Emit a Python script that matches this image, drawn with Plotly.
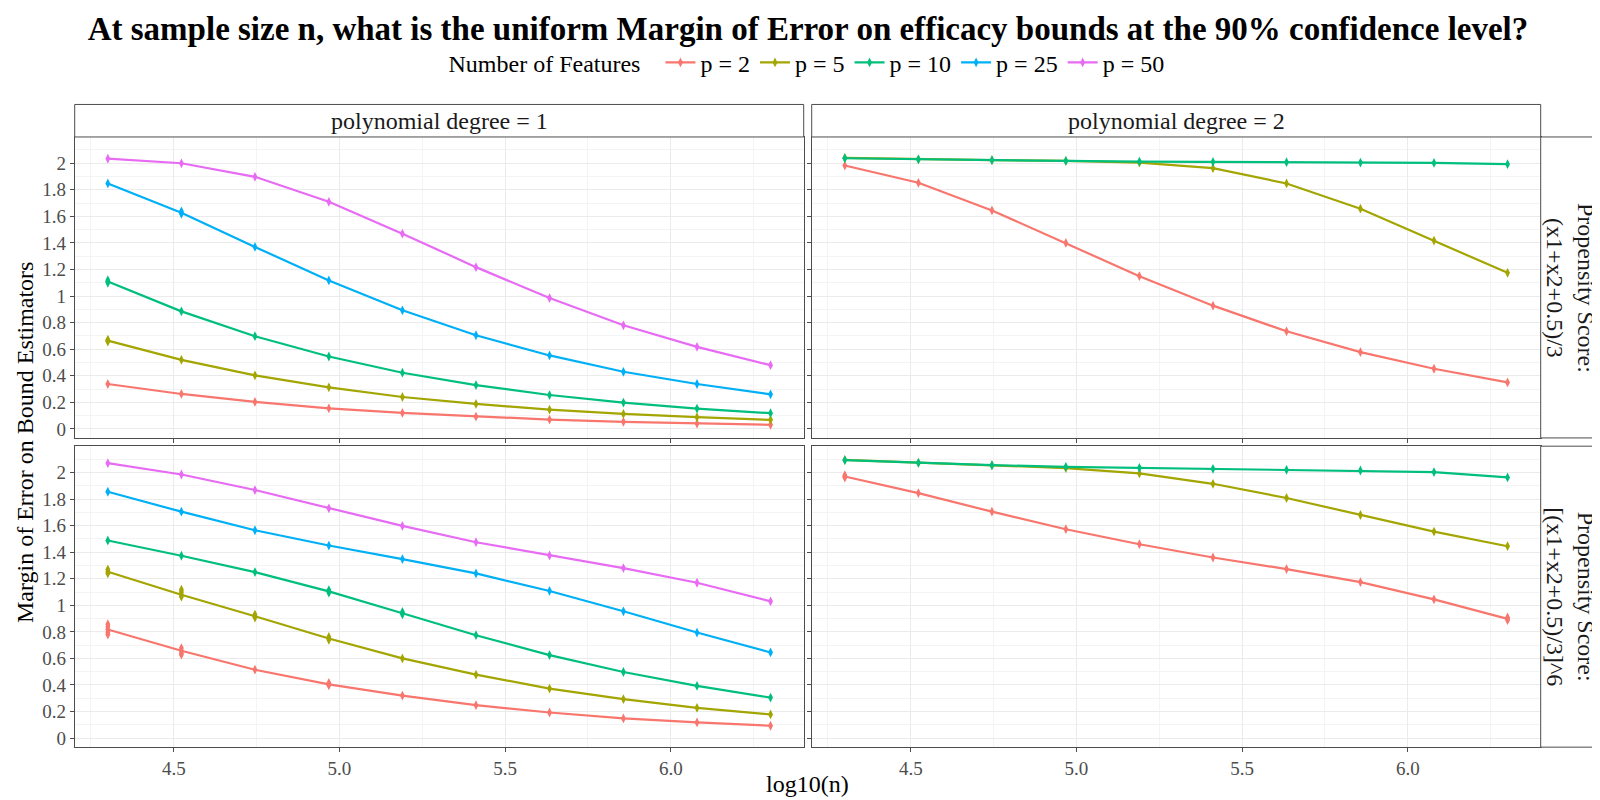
import plotly.graph_objects as go

# log10(n) sample sizes
log_n = [4.301, 4.523, 4.745, 4.968, 5.190, 5.412, 5.634, 5.857, 6.079, 6.301]

features = ["p = 2", "p = 5", "p = 10", "p = 25", "p = 50"]
colors = ["#F8766D", "#A3A500", "#00BF7D", "#00B0F6", "#E76BF3"]

# polynomial degree = 1, propensity score (x1+x2+0.5)/3
d1_ps1_p2 = [0.338, 0.263, 0.203, 0.155, 0.120, 0.093, 0.070, 0.053, 0.040, 0.031]
d1_ps1_p5 = [0.665, 0.520, 0.403, 0.313, 0.240, 0.188, 0.145, 0.113, 0.088, 0.068]
d1_ps1_p10 = [1.110, 0.885, 0.698, 0.545, 0.423, 0.330, 0.255, 0.198, 0.153, 0.118]
d1_ps1_p25 = [1.848, 1.628, 1.370, 1.118, 0.893, 0.705, 0.553, 0.430, 0.338, 0.260]
d1_ps1_p50 = [2.035, 2.000, 1.898, 1.710, 1.470, 1.218, 0.985, 0.780, 0.618, 0.480]

# polynomial degree = 1, propensity score [(x1+x2+0.5)/3]^6
d1_ps2_p2 = [0.818, 0.658, 0.515, 0.405, 0.320, 0.248, 0.193, 0.148, 0.118, 0.093]
d1_ps2_p5 = [1.253, 1.080, 0.918, 0.750, 0.600, 0.478, 0.373, 0.293, 0.228, 0.178]
d1_ps2_p10 = [1.488, 1.373, 1.250, 1.105, 0.940, 0.775, 0.625, 0.498, 0.393, 0.305]
d1_ps2_p25 = [1.855, 1.705, 1.565, 1.450, 1.348, 1.240, 1.108, 0.955, 0.795, 0.645]
d1_ps2_p50 = [2.070, 1.985, 1.868, 1.730, 1.598, 1.475, 1.375, 1.280, 1.170, 1.030]

# polynomial degree = 2, propensity score (x1+x2+0.5)/3
d2_ps1_p2 = [1.983, 1.853, 1.645, 1.400, 1.150, 0.928, 0.735, 0.578, 0.453, 0.350]
d2_ps1_p5 = [2.040, 2.030, 2.023, 2.018, 2.005, 1.963, 1.848, 1.658, 1.418, 1.175]
d2_ps1_p10 = [2.038, 2.030, 2.023, 2.018, 2.013, 2.010, 2.008, 2.005, 2.003, 1.993]

# polynomial degree = 2, propensity score [(x1+x2+0.5)/3]^6
d2_ps2_p2 = [1.970, 1.845, 1.705, 1.573, 1.460, 1.360, 1.273, 1.175, 1.045, 0.898]
d2_ps2_p5 = [2.095, 2.073, 2.053, 2.033, 1.993, 1.915, 1.808, 1.680, 1.555, 1.445]
d2_ps2_p10 = [2.093, 2.073, 2.055, 2.043, 2.035, 2.028, 2.020, 2.015, 2.003, 1.963]

# extra replicate points (index into log_n, value)
rep_d1_ps1_p5 = [(0, 0.672), (0, 0.658)]
rep_d1_ps1_p10 = [(0, 1.120), (0, 1.100)]
rep_d1_ps1_p25 = [(1, 1.638), (1, 1.620)]
rep_d1_ps2_p2 = [(0, 0.858), (0, 0.838), (0, 0.798), (0, 0.780), (1, 0.678), (1, 0.640), (1, 0.628), (3, 0.415), (3, 0.398)]
rep_d1_ps2_p5 = [(0, 1.270), (0, 1.240), (1, 1.118), (1, 1.100), (1, 1.065), (2, 0.930), (2, 0.908), (3, 0.762), (3, 0.740)]
rep_d1_ps2_p10 = [(3, 1.115), (3, 1.095), (4, 0.950), (4, 0.932)]
rep_d2_ps2_p2 = [(0, 1.980), (0, 1.962), (9, 0.908), (9, 0.888)]

panels = [
    # (xaxis, yaxis, series list, replicate list)
    ("x", "y", [d1_ps1_p2, d1_ps1_p5, d1_ps1_p10, d1_ps1_p25, d1_ps1_p50],
     [[], rep_d1_ps1_p5, rep_d1_ps1_p10, rep_d1_ps1_p25, []]),
    ("x2", "y2", [d2_ps1_p2, d2_ps1_p5, d2_ps1_p10], [[], [], []]),
    ("x3", "y3", [d1_ps2_p2, d1_ps2_p5, d1_ps2_p10, d1_ps2_p25, d1_ps2_p50],
     [rep_d1_ps2_p2, rep_d1_ps2_p5, rep_d1_ps2_p10, [], []]),
    ("x4", "y4", [d2_ps2_p2, d2_ps2_p5, d2_ps2_p10], [rep_d2_ps2_p2, [], []]),
]

FONT = "Liberation Serif, Times New Roman, serif"
W, H = 1600, 800

# panel pixel boxes
px_left = (66.7, 795.7)
px_right = (803.7, 1532.7)
py_top = (129.3, 431.0)
py_bot = (439.3, 741.0)
strip_top = (96.7, 129.3)
strip_right = (1532.7, 1592.3)


def xd(a, b):
    return [a / W, b / W]


def yd(a, b):
    return [1 - b / H, 1 - a / H]


fig = go.Figure()

for k, (xa, ya, series, reps) in enumerate(panels):
    for i, vals in enumerate(series):
        fig.add_trace(go.Scatter(
            x=log_n, y=vals, mode="lines+markers", xaxis=xa, yaxis=ya,
            name=features[i], legendgroup=features[i], showlegend=(k == 0),
            line=dict(color=colors[i], width=2.2),
            marker=dict(color=colors[i], symbol="diamond-tall", size=7),
        ))
        if reps[i]:
            fig.add_trace(go.Scatter(
                x=[log_n[j] for j, v in reps[i]], y=[v for j, v in reps[i]],
                mode="markers", xaxis=xa, yaxis=ya, showlegend=False,
                legendgroup=features[i], hoverinfo="skip",
                marker=dict(color=colors[i], symbol="diamond-tall", size=7),
            ))

yticks = [0, 0.2, 0.4, 0.6, 0.8, 1.0, 1.2, 1.4, 1.6, 1.8, 2.0]
ytext = ["0", "0.2", "0.4", "0.6", "0.8", "1", "1.2", "1.4", "1.6", "1.8", "2"]
xticks = [4.5, 5.0, 5.5, 6.0]
xtext = ["4.5", "5.0", "5.5", "6.0"]
xminor = [4.25, 4.75, 5.25, 5.75, 6.25]
yminor = [0.1, 0.3, 0.5, 0.7, 0.9, 1.1, 1.3, 1.5, 1.7, 1.9, 2.1]

axis_common = dict(
    showline=True, mirror=True, linecolor="#4D4D4D", linewidth=1,
    gridcolor="#EBEBEB", gridwidth=1, zeroline=False,
    ticks="outside", ticklen=4, tickcolor="#4D4D4D", tickwidth=1,
    tickfont=dict(family=FONT, size=19, color="#4D4D4D"),
)

layout_axes = {}
for name, dom, show in [("xaxis", xd(*px_left), False), ("xaxis2", xd(*px_right), False),
                        ("xaxis3", xd(*px_left), True), ("xaxis4", xd(*px_right), True)]:
    anchor = {"xaxis": "y", "xaxis2": "y2", "xaxis3": "y3", "xaxis4": "y4"}[name]
    layout_axes[name] = dict(
        axis_common, domain=dom, anchor=anchor, range=[4.201, 6.401],
        tickvals=xticks, ticktext=xtext, showticklabels=show,
        minor=dict(tickvals=xminor, showgrid=True, gridcolor="#F4F4F4", gridwidth=0.6, ticks=""),
    )
for name, dom, show in [("yaxis", yd(*py_top), True), ("yaxis2", yd(*py_top), False),
                        ("yaxis3", yd(*py_bot), True), ("yaxis4", yd(*py_bot), False)]:
    anchor = {"yaxis": "x", "yaxis2": "x2", "yaxis3": "x3", "yaxis4": "x4"}[name]
    layout_axes[name] = dict(
        axis_common, domain=dom, anchor=anchor, range=[-0.068, 2.198],
        tickvals=yticks, ticktext=ytext, showticklabels=show,
        minor=dict(tickvals=yminor, showgrid=True, gridcolor="#F4F4F4", gridwidth=0.6, ticks=""),
    )

shapes = []
annotations = []
strip_font = dict(family=FONT, size=24, color="#1A1A1A")

for (a, b), label in [(px_left, "polynomial degree = 1"), (px_right, "polynomial degree = 2")]:
    shapes.append(dict(type="rect", xref="paper", yref="paper",
                       x0=a / W, x1=b / W, y0=1 - strip_top[1] / H, y1=1 - strip_top[0] / H,
                       line=dict(color="#4D4D4D", width=1), fillcolor="white"))
    annotations.append(dict(text=label, xref="paper", yref="paper",
                            x=(a + b) / 2 / W, y=1 - sum(strip_top) / 2 / H,
                            showarrow=False, font=strip_font, xanchor="center", yanchor="middle"))

for (a, b), label in [(py_top, "Propensity Score:<br>(x1+x2+0.5)/3"),
                      (py_bot, "Propensity Score:<br>[(x1+x2+0.5)/3]^6")]:
    shapes.append(dict(type="rect", xref="paper", yref="paper",
                       x0=strip_right[0] / W, x1=strip_right[1] / W, y0=1 - b / H, y1=1 - a / H,
                       line=dict(color="#4D4D4D", width=1), fillcolor="white"))
    annotations.append(dict(text=label, xref="paper", yref="paper",
                            x=sum(strip_right) / 2 / W, y=1 - (a + b) / 2 / H,
                            showarrow=False, font=strip_font, textangle=90,
                            xanchor="center", yanchor="middle"))

annotations.append(dict(text="Margin of Error on Bound Estimators", xref="paper", yref="paper",
                        x=17 / W, y=1 - (py_top[0] + py_bot[1]) / 2 / H, textangle=-90,
                        showarrow=False, font=dict(family=FONT, size=24, color="black"),
                        xanchor="center", yanchor="middle"))
annotations.append(dict(text="log10(n)", xref="paper", yref="paper",
                        x=(px_left[0] + px_right[1]) / 2 / W, y=1 - 778 / H,
                        showarrow=False, font=dict(family=FONT, size=24, color="black"),
                        xanchor="center", yanchor="middle"))

fig.update_layout(
    width=W, height=H,
    margin=dict(l=0, r=0, t=0, b=0),
    paper_bgcolor="white", plot_bgcolor="white",
    font=dict(family=FONT, color="black"),
    title=dict(
        text="<b>At sample size n, what is the uniform Margin of Error on efficacy bounds at the 90% confidence level?</b>",
        x=0.5, xanchor="center", y=1 - 20 / H, yanchor="middle",
        font=dict(family=FONT, size=33, color="black"),
    ),
    legend=dict(
        orientation="h", x=0.5, xanchor="center", y=1 - 55 / H, yanchor="middle",
        title=dict(text="Number of Features  ", side="left", font=dict(family=FONT, size=24)),
        font=dict(family=FONT, size=24, color="black"),
        bgcolor="rgba(0,0,0,0)", itemwidth=30,
    ),
    shapes=shapes,
    annotations=annotations,
    **layout_axes,
)

fig.write_html("out.html")
